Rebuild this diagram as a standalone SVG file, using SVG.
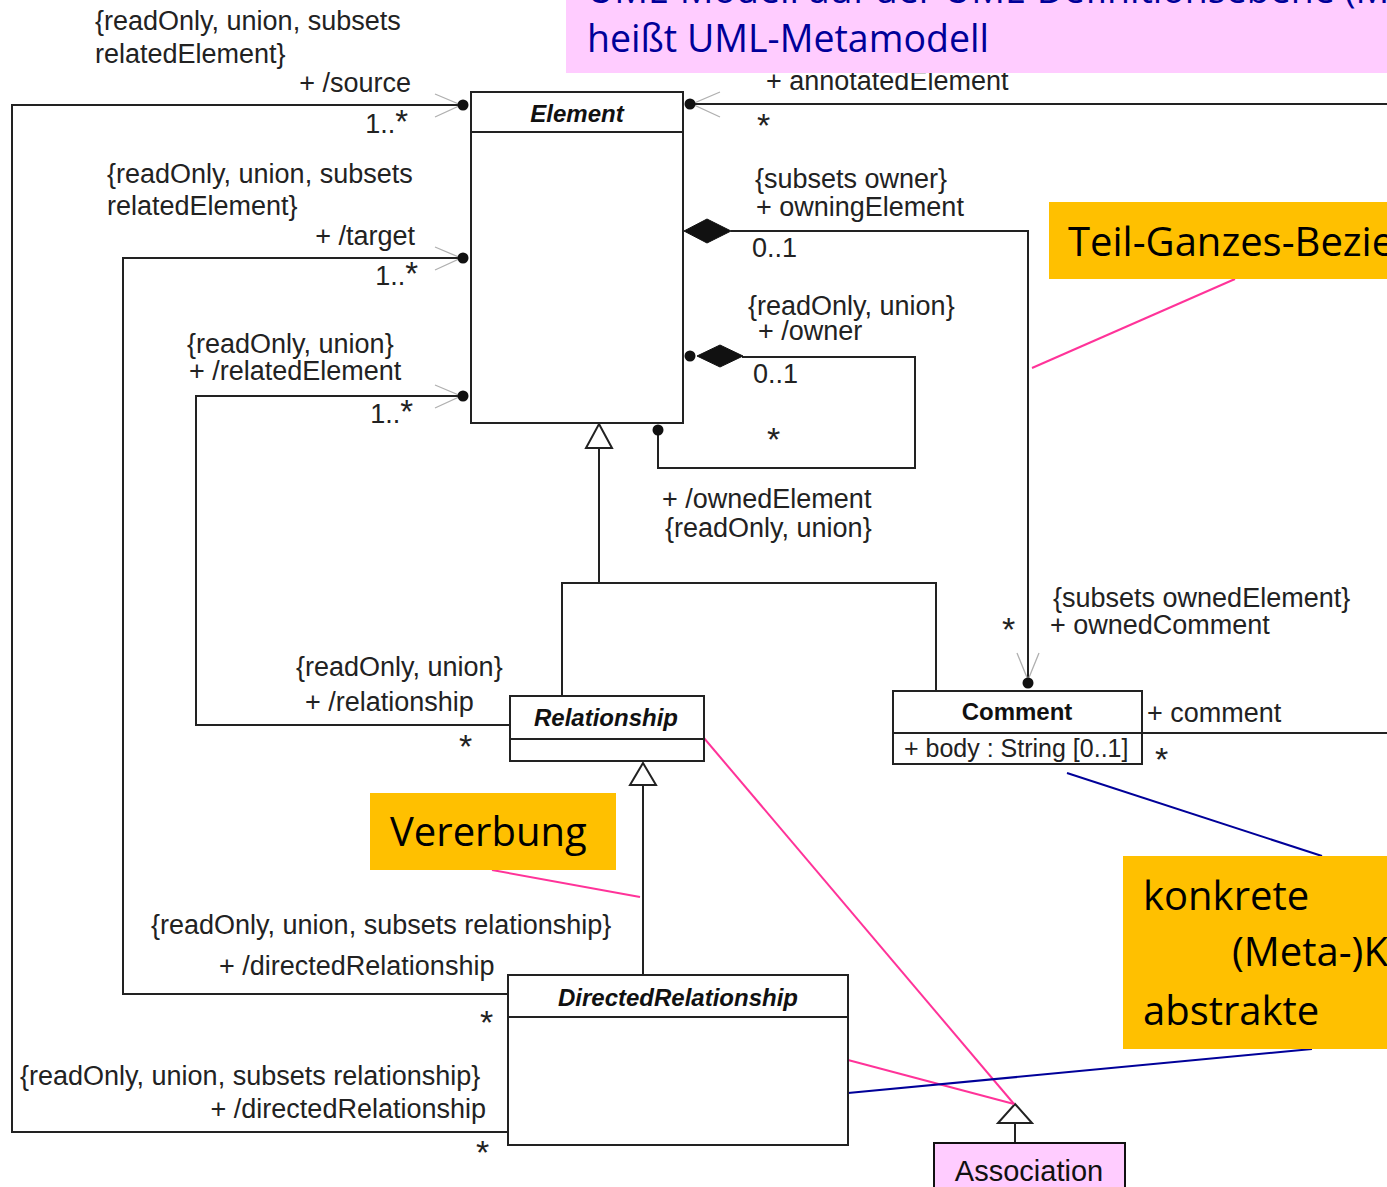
<svg xmlns="http://www.w3.org/2000/svg" width="1387" height="1187" viewBox="0 0 1387 1187">
  <style>
    .lbl { font-family: "Liberation Sans", Arial, sans-serif; font-size: 27px; fill: #222; }
    .end { text-anchor: end; }
    .ast { font-family: "Liberation Sans", Arial, sans-serif; font-size: 34px; fill: #222; }
    .star { font-size: 33px; }
    .cname { font-family: "Liberation Sans", Arial, sans-serif; font-size: 24px; font-weight: bold; font-style: italic; fill: #111; text-anchor: middle; }
    .cname-c { font-family: "Liberation Sans", Arial, sans-serif; font-size: 24px; font-weight: bold; fill: #111; text-anchor: middle; }
    .attr { font-family: "Liberation Sans", Arial, sans-serif; font-size: 25px; fill: #222; }
    .box { fill: #fff; stroke: #222; stroke-width: 2; }
    .ln { fill: none; stroke: #222; stroke-width: 2; }
    .nav { fill: none; stroke: #b0b0b0; stroke-width: 1.3; }
    .dot { fill: #111; }
    .dia { fill: #111; stroke: #111; stroke-width: 1; }
    .gen { fill: #fff; stroke: #222; stroke-width: 2; }
    .note { fill: #FFC000; }
    .note-t { font-family: "Open Sans", "Liberation Sans", sans-serif; font-size: 40px; fill: #000; }
    .head { fill: #FFCCFF; }
    .head-t { font-family: "Open Sans", "Liberation Sans", sans-serif; font-size: 37.5px; fill: #000099; }
    .pk { fill: none; stroke: #FF3399; stroke-width: 2; }
    .bl { fill: none; stroke: #000099; stroke-width: 2; }
  </style>

  <rect x="0" y="0" width="1387" height="1187" fill="#fff"/>

  <!-- association, composition and generalization lines -->
  <g id="connectors">
    <!-- source -->
    <polyline class="ln" points="508,1132 12,1132 12,105 463,105"/>
    <polyline class="nav" points="435,94 461,105 435,117"/>
    <circle class="dot" cx="463" cy="105" r="5.5"/>
    <!-- target -->
    <polyline class="ln" points="508,994 123,994 123,258 463,258"/>
    <polyline class="nav" points="435,247 461,258 435,270"/>
    <circle class="dot" cx="463" cy="258" r="5.5"/>
    <!-- relatedElement -->
    <polyline class="ln" points="510,725 196,725 196,396 463,396"/>
    <polyline class="nav" points="435,385 461,396 435,408"/>
    <circle class="dot" cx="463" cy="396" r="5.5"/>
    <!-- annotatedElement -->
    <line class="ln" x1="690" y1="104" x2="1387" y2="104"/>
    <polyline class="nav" points="720,92 692,104 720,117"/>
    <circle class="dot" cx="690" cy="104" r="5.5"/>
    <!-- owningElement / ownedComment -->
    <polyline class="ln" points="731,231 1028,231 1028,683"/>
    <polygon class="dia" points="684,231 707,219 731,231 707,243"/>
    <polyline class="nav" points="1017,653 1028,680 1039,653"/>
    <circle class="dot" cx="1028" cy="683" r="5.5"/>
    <!-- owner / ownedElement -->
    <polyline class="ln" points="742,357 915,357 915,468 658,468 658,430"/>
    <polygon class="dia" points="697,356 720,345 743,356 720,367"/>
    <circle class="dot" cx="690" cy="356" r="5.5"/>
    <circle class="dot" cx="658" cy="430" r="5.5"/>
    <!-- generalization to Element -->
    <polyline class="ln" points="562,696 562,583 936,583 936,690"/>
    <line class="ln" x1="599" y1="448" x2="599" y2="583"/>
    <polygon class="gen" points="599,424 612,448 586,448"/>
    <!-- generalization to Relationship -->
    <line class="ln" x1="643" y1="785" x2="643" y2="975"/>
    <polygon class="gen" points="643,763 656,785 630,785"/>
    <!-- comment -->
    <line class="ln" x1="1142" y1="733" x2="1387" y2="733"/>
    <!-- generalization of Association -->
    <line class="ln" x1="1015" y1="1123" x2="1015" y2="1143"/>
    <polygon class="gen" points="1015,1104 1032,1123 998,1123"/>

    <!-- callout pointers -->
    <line class="pk" x1="1235" y1="279" x2="1032" y2="368"/>
    <line class="pk" x1="492" y1="870" x2="640" y2="897"/>
    <line class="pk" x1="698" y1="731" x2="1014" y2="1104"/>
    <line class="pk" x1="848" y1="1060" x2="1014" y2="1104"/>
    <line class="bl" x1="1067" y1="773" x2="1322" y2="856"/>
    <line class="bl" x1="848" y1="1093" x2="1312" y2="1049"/>
  </g>

  <!-- association end labels -->
  <g id="labels">
    <text class="lbl" x="95" y="30">{readOnly, union, subsets</text>
    <text class="lbl" x="95" y="63">relatedElement}</text>
    <text class="lbl end" x="411" y="92">+ /source</text>
    <text class="lbl end" x="408" y="133">1..<tspan class="star">*</tspan></text>

    <text class="lbl" x="107" y="183">{readOnly, union, subsets</text>
    <text class="lbl" x="107" y="215">relatedElement}</text>
    <text class="lbl end" x="415" y="245">+ /target</text>
    <text class="lbl end" x="418" y="285">1..<tspan class="star">*</tspan></text>

    <text class="lbl" x="187" y="353">{readOnly, union}</text>
    <text class="lbl" x="189" y="380">+ /relatedElement</text>
    <text class="lbl end" x="413" y="423">1..<tspan class="star">*</tspan></text>

    <text class="lbl" x="766" y="90">+ annotatedElement</text>
    <text class="ast" x="757" y="137">*</text>

    <text class="lbl" x="755" y="188">{subsets owner}</text>
    <text class="lbl" x="756" y="216">+ owningElement</text>
    <text class="lbl" x="752" y="257">0..1</text>

    <text class="lbl" x="748" y="315">{readOnly, union}</text>
    <text class="lbl" x="758" y="340">+ /owner</text>
    <text class="lbl" x="753" y="383">0..1</text>
    <text class="ast" x="767" y="451">*</text>

    <text class="lbl" x="662" y="508">+ /ownedElement</text>
    <text class="lbl" x="665" y="537">{readOnly, union}</text>

    <text class="lbl" x="1053" y="607">{subsets ownedElement}</text>
    <text class="lbl" x="1050" y="634">+ ownedComment</text>
    <text class="ast" x="1002" y="641">*</text>

    <text class="lbl" x="296" y="676">{readOnly, union}</text>
    <text class="lbl" x="305" y="711">+ /relationship</text>
    <text class="ast" x="459" y="758">*</text>

    <text class="lbl" x="1147" y="722">+ comment</text>
    <text class="ast" x="1155" y="771">*</text>

    <text class="lbl" x="151" y="934">{readOnly, union, subsets relationship}</text>
    <text class="lbl" x="219" y="975">+ /directedRelationship</text>
    <text class="ast" x="480" y="1034">*</text>

    <text class="lbl" x="20" y="1085">{readOnly, union, subsets relationship}</text>
    <text class="lbl end" x="486" y="1118">+ /directedRelationship</text>
    <text class="ast" x="476" y="1164">*</text>
  </g>

  <!-- classes -->
  <g id="Element">
    <rect class="box" x="471" y="92" width="212" height="331"/>
    <line class="ln" x1="471" y1="132" x2="683" y2="132"/>
    <text class="cname" x="577" y="122">Element</text>
  </g>

  <g id="Relationship">
    <rect class="box" x="510" y="696" width="194" height="65"/>
    <line class="ln" x1="510" y1="739" x2="704" y2="739"/>
    <text class="cname" x="606" y="726">Relationship</text>
  </g>

  <g id="DirectedRelationship">
    <rect class="box" x="508" y="975" width="340" height="170"/>
    <line class="ln" x1="508" y1="1017" x2="848" y2="1017"/>
    <text class="cname" x="678" y="1006">DirectedRelationship</text>
  </g>

  <g id="Comment">
    <rect class="box" x="893" y="691" width="249" height="73"/>
    <line class="ln" x1="893" y1="733" x2="1142" y2="733"/>
    <text class="cname-c" x="1017" y="720">Comment</text>
    <text class="attr" x="904" y="757">+ body : String [0..1]</text>
  </g>

  <g id="Association">
    <rect x="934" y="1143" width="191" height="60" fill="#FFCCFF" stroke="#111" stroke-width="2"/>
    <text x="1029" y="1181" text-anchor="middle" font-family="Liberation Sans, Arial, sans-serif" font-size="29" fill="#111">Association</text>
  </g>

  <!-- heading and callouts -->
  <g id="heading">
    <rect class="head" x="566" y="0" width="821" height="73"/>
    <text class="head-t" x="587" y="3">UML-Modell auf der UML-Definitionsebene (M2)</text>
    <text class="head-t" x="587" y="52">heißt UML-Metamodell</text>
  </g>

  <g id="note-teil-ganzes">
    <rect class="note" x="1049" y="202" width="338" height="77"/>
    <text class="note-t" x="1068" y="256">Teil-Ganzes-Beziehung</text>
  </g>

  <g id="note-vererbung">
    <rect class="note" x="370" y="793" width="246" height="77"/>
    <text class="note-t" x="390" y="846">Vererbung</text>
  </g>

  <g id="note-klassen">
    <rect class="note" x="1123" y="856" width="264" height="193"/>
    <text class="note-t" x="1143" y="910">konkrete</text>
    <text class="note-t" x="1232" y="966">(Meta-)Klasse</text>
    <text class="note-t" x="1143" y="1025">abstrakte</text>
  </g>
</svg>
